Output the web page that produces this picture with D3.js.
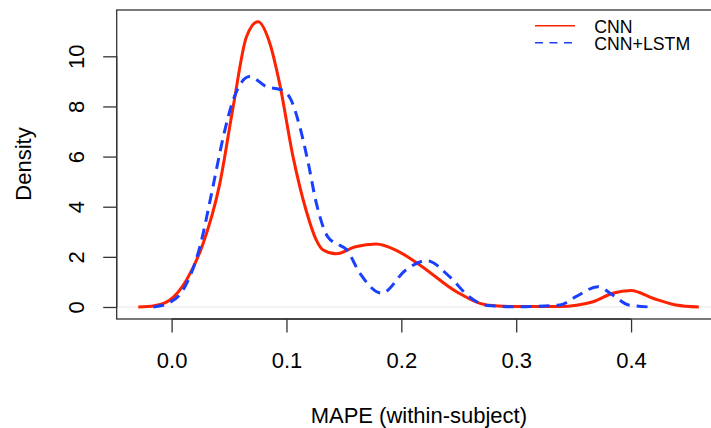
<!DOCTYPE html>
<html>
<head>
<meta charset="utf-8">
<script src="https://cdn.jsdelivr.net/npm/d3@7"></script>
<style>
  html, body { margin: 0; padding: 0; background: #fff; }
  svg { display: block; font-family: "Liberation Sans", Arial, sans-serif; }
</style>
</head>
<body>
<svg id="chart" width="711" height="428"></svg>
<script>
// ---- data ----
const cnnX = [-0.029, -0.015, -0.0015, 0.013, 0.0275, 0.042, 0.0536, 0.0652, 0.0753, 0.0855, 0.094, 0.1057, 0.117, 0.126, 0.132, 0.143, 0.160, 0.178, 0.196, 0.216, 0.248, 0.274, 0.30, 0.338, 0.367, 0.384, 0.400, 0.419, 0.439, 0.459];
const cnnY = [0, 0.05, 0.28, 1.08, 2.54, 4.93, 7.99, 10.78, 11.38, 10.52, 8.92, 6.0, 3.87, 2.67, 2.27, 2.12, 2.4, 2.51, 2.25, 1.68, 0.61, 0.08, 0.02, 0.02, 0.21, 0.55, 0.66, 0.35, 0.08, 0];

const lstmX = [-0.016, -0.003, 0.010, 0.0246, 0.036, 0.045, 0.0536, 0.068, 0.0826, 0.0957, 0.104, 0.1116, 0.119, 0.126, 0.136, 0.146, 0.152, 0.164, 0.183, 0.204, 0.222, 0.242, 0.259, 0.275, 0.30, 0.338, 0.352, 0.371, 0.384, 0.398, 0.4165];
const lstmY = [0, 0.15, 0.68, 2.4, 4.8, 6.79, 8.26, 9.19, 8.79, 8.66, 8.26, 7.19, 5.73, 4.14, 2.8, 2.47, 2.3, 1.34, 0.55, 1.48, 1.85, 1.21, 0.41, 0.06, 0.01, 0.08, 0.41, 0.81, 0.48, 0.08, 0];

const xTicks = [0.0, 0.1, 0.2, 0.3, 0.4];
const yTicks = [0, 2, 4, 6, 8, 10];
const seriesNames = ["CNN", "CNN+LSTM"];
const xTitle = "MAPE (within-subject)";
const yTitle = "Density";

// ---- layout ----
const svg = d3.select("#chart");
const box = { left: 116.7, right: 721, top: 10, bottom: 319 };
const x = d3.scaleLinear().domain([-0.0478, 0.4783]).range([box.left, box.right]);
const y = d3.scaleLinear().domain([-0.479, 11.847]).range([box.bottom, box.top]);

const red = "#ff2200";
const blue = "#1a40ff";

// zero line (light gray, like R's density plot)
svg.append("line")
  .attr("x1", box.left).attr("x2", box.right)
  .attr("y1", y(0)).attr("y2", y(0))
  .attr("stroke", "#e6e6e6").attr("stroke-width", 1);

const line = d3.line()
  .x(d => x(d[0])).y(d => y(d[1]))
  .curve(d3.curveMonotoneX);

const cnn = cnnX.map((v, i) => [v, cnnY[i]]);
const lstm = lstmX.map((v, i) => [v, lstmY[i]]);

svg.append("path").datum(cnn)
  .attr("d", line).attr("fill", "none")
  .attr("stroke", red).attr("stroke-width", 3).attr("stroke-linejoin", "round");

svg.append("path").datum(lstm)
  .attr("d", line).attr("fill", "none")
  .attr("stroke", blue).attr("stroke-width", 3)
  .attr("stroke-dasharray", "11,7");

// box
svg.append("rect")
  .attr("x", box.left).attr("y", box.top)
  .attr("width", box.right - box.left).attr("height", box.bottom - box.top)
  .attr("fill", "none").attr("stroke", "#333").attr("stroke-width", 1.3);

// x axis
const xAxis = d3.axisBottom(x).tickValues(xTicks).tickSize(13.5).tickPadding(0)
  .tickFormat(d3.format(".1f"));
const gx = svg.append("g").attr("transform", `translate(0,${box.bottom})`).call(xAxis);
gx.select(".domain").attr("d", `M${x(xTicks[0])},0H${x(xTicks[xTicks.length-1])}`)
  .attr("stroke", "#333").attr("stroke-width", 1.3);
gx.selectAll(".tick line").attr("stroke", "#333").attr("stroke-width", 1.3);
gx.selectAll(".tick text")
  .attr("y", 49.3).attr("dy", null)
  .attr("font-size", "22px").attr("fill", "#000")
  .attr("font-family", "Liberation Sans, Arial, sans-serif");

// y axis
const yAxis = d3.axisLeft(y).tickValues(yTicks).tickSize(13.5).tickFormat(d3.format("d"));
const gy = svg.append("g").attr("transform", `translate(${box.left},0)`).call(yAxis);
gy.select(".domain").attr("d", `M0,${y(yTicks[0])}V${y(yTicks[yTicks.length-1])}`)
  .attr("stroke", "#333").attr("stroke-width", 1.3);
gy.selectAll(".tick line").attr("stroke", "#333").attr("stroke-width", 1.3);
gy.selectAll(".tick text")
  .attr("x", null).attr("dy", null)
  .attr("transform", "translate(-32.5,0) rotate(-90)")
  .attr("text-anchor", "middle")
  .attr("font-size", "22px").attr("fill", "#000")
  .attr("font-family", "Liberation Sans, Arial, sans-serif");

// axis titles
svg.append("text")
  .attr("x", (box.left + box.right) / 2).attr("y", 422.5)
  .attr("text-anchor", "middle").attr("font-size", "22px").attr("fill", "#000")
  .text(xTitle);

svg.append("text")
  .attr("transform", `translate(31,164) rotate(-90)`)
  .attr("text-anchor", "middle").attr("font-size", "22px").attr("fill", "#000")
  .text(yTitle);

// legend
const legend = svg.append("g");
const legendItems = [
  { name: seriesNames[0], color: red, dash: null, ly: 25.7, ty: 33.3 },
  { name: seriesNames[1], color: blue, dash: "8,6.5", ly: 42.7, ty: 50 }
];
legendItems.forEach(it => {
  legend.append("line")
    .attr("x1", 535).attr("x2", 575).attr("y1", it.ly).attr("y2", it.ly)
    .attr("stroke", it.color).attr("stroke-width", 1.5)
    .attr("stroke-dasharray", it.dash);
  legend.append("text")
    .attr("x", 594.3).attr("y", it.ty)
    .attr("font-size", "17.7px").attr("fill", "#000")
    .text(it.name);
});
</script>
</body>
</html>
